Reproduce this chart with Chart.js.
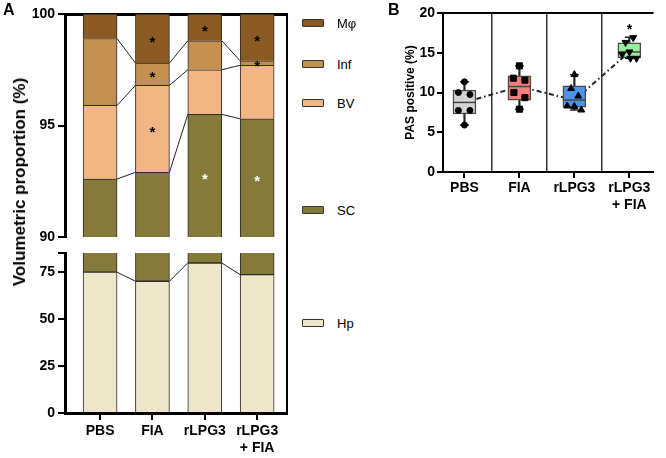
<!DOCTYPE html>
<html>
<head>
<meta charset="utf-8">
<script src="https://cdn.jsdelivr.net/npm/chart.js@4"></script>
<style>
  html, body { margin: 0; padding: 0; background: #fff; }
  body { width: 666px; height: 458px; position: relative; overflow: hidden; font-family: "Liberation Sans", Arial, sans-serif; }
  canvas { position: absolute; top: 0; }
  .panel { position: absolute; font-weight: bold; font-size: 16px; color: #000; }
  .ytitle { position: absolute; white-space: nowrap; font-weight: bold; color: #000; transform: translate(-50%, -50%) rotate(-90deg); }
  .lg-box { position: absolute; box-sizing: border-box; border: 1.5px solid #333; border-radius: 1px; }
  .lg-txt { position: absolute; font-size: 13px; color: #000; transform: translateY(-50%); white-space: nowrap; }
</style>
</head>
<body>
<canvas id="chartA" width="300" height="458" style="left:0px"></canvas>
<canvas id="chartB" width="271" height="210" style="left:395px"></canvas>
<div class="panel" style="left:3px;top:1px">A</div>
<div class="panel" style="left:388px;top:1px">B</div>
<div class="ytitle" style="left:20px;top:182px;font-size:17px">Volumetric proportion (%)</div>
<div id="legendA"></div>
<script>
// ---------------- DATA ----------------
// Panel A: volumetric proportion (%) of each compartment per group
const groupLabels = ['PBS', 'FIA', 'rLPG3', ['rLPG3', '+ FIA']];
const seriesNames = ['Hp', 'SC', 'BV', 'Inf', 'Mφ'];
const hpValues   = [74.8, 70.0, 79.7, 73.5];
const scValues   = [17.8, 22.9, 15.8, 21.8];
const bvValues   = [3.3, 3.9, 2.0, 2.4];
const infValues  = [3.0, 1.0, 1.3, 0.2];
const mphiValues = [1.1, 2.2, 1.2, 2.1];
const topAxisTicks = [90, 95, 100];
const bottomAxisTicks = [0, 25, 50, 75];
const starGroupsA = [1, 1, 1, 2, 2, 3, 3, 3];
const starSeriesA = ['Mφ', 'Inf', 'BV', 'Mφ', 'SC', 'Mφ', 'Inf', 'SC'];

// Panel B: PAS positive (%) box plots
const pasLabels = ['PBS', 'FIA', 'rLPG3', ['rLPG3', '+ FIA']];
const pasMin    = [5.9, 7.9, 7.8, 14.3];
const pasQ1     = [7.3, 9.05, 8.15, 14.35];
const pasMedian = [8.75, 10.75, 9.05, 15.1];
const pasQ3     = [10.3, 12.1, 10.85, 16.25];
const pasMax    = [11.35, 13.35, 12.25, 16.95];
const pasPBS      = [11.35, 10.0, 9.75, 7.75, 7.75, 5.9];
const pasFIA      = [13.35, 11.8, 11.55, 10.0, 9.35, 7.9];
const pasRLPG3    = [12.25, 10.5, 9.55, 8.3, 8.25, 7.8];
const pasRLPG3FIA = [16.9, 16.3, 15.1, 14.8, 14.3, 14.3];
const pasTicks = [0, 5, 10, 15, 20];
const pasStarGroups = [3];
const pasStarValues = [18.3];

// ---------------- LAYOUT / STYLE ----------------
const seriesColors = ['#ede6cb', '#857a3a', '#f2b684', '#c4904f', '#8b5a22'];
const BAR_W = 34;
const TICK_FONT = { weight: 'bold', size: 14 };
const TOP_SECTION = { id: 'yTop', min: 90, max: 100 };
const GAP_SECTION = { id: 'yGap', min: 85, max: 90 };
const BOT_SECTION = { id: 'yBot', min: 0, max: 85 };
const legendY = { 'Mφ': 23, 'Inf': 64, 'BV': 103, 'SC': 210, 'Hp': 323 };
const boxColors = ['#d4d4d4', '#f77e7e', '#4c93ee', '#95f09a'];
const markerStyles = ['circle', 'rect', 'triangle', 'triangle'];
const markerRotations = [0, 0, 0, 180];
const markerRadii = [3, 4.3, 4, 4];
const jitters = [
  [0, -0.11, 0.1, -0.11, 0.1, 0],
  [0, -0.11, 0.1, -0.1, 0.1, 0],
  [0, -0.06, 0.07, -0.13, 0, 0.125],
  [0.07, -0.07, 0, -0.13, 0.02, 0.13]
];

Chart.defaults.font.family = '"Liberation Sans", Arial, sans-serif';
Chart.defaults.color = '#000';

// ---------------- PANEL A ----------------
const seriesValues = [hpValues, scValues, bvValues, infValues, mphiValues];
const cumTop = seriesValues.map((_, s) => groupLabels.map((__, i) => {
  let t = 0;
  for (let k = 0; k <= s; k++) t += seriesValues[k][i];
  return Math.round(t * 1000) / 1000;
}));
const cumBottom = (s, i) => (s === 0 ? 0 : cumTop[s - 1][i]);

const datasetsA = [];
seriesValues.forEach((vals, s) => {
  [TOP_SECTION, BOT_SECTION].forEach(sec => {
    const data = [];
    vals.forEach((v, i) => {
      const lo = cumBottom(s, i), hi = cumTop[s][i];
      const a = Math.max(lo, sec.min), b = Math.min(hi, sec.max);
      if (b > a) data.push({ x: i, y: [a, b], cutHi: b < hi - 1e-6 });
    });
    datasetsA.push({
      label: seriesNames[s],
      data,
      xAxisID: 'x',
      yAxisID: sec.id,
      backgroundColor: seriesColors[s],
      borderColor: '#2b2b2b',
      borderWidth: 1,
      borderSkipped: c => (c.raw && c.raw.cutHi ? 'top' : 'bottom'),
      barThickness: BAR_W,
      grouped: false
    });
  });
});

const connectorPlugin = {
  id: 'connectors',
  afterDatasetsDraw(chart) {
    const ctx = chart.ctx;
    const xs = chart.scales.x;
    const half = BAR_W / 2;
    ctx.save();
    ctx.strokeStyle = '#222';
    ctx.lineWidth = 1;
    for (let s = 0; s < seriesValues.length - 1; s++) {
      for (let i = 0; i < groupLabels.length - 1; i++) {
        const a = cumTop[s][i], b = cumTop[s][i + 1];
        [TOP_SECTION, BOT_SECTION].forEach(sec => {
          const sc = chart.scales[sec.id];
          if (a >= sec.min && a <= sec.max && b >= sec.min && b <= sec.max) {
            ctx.beginPath();
            ctx.moveTo(xs.getPixelForValue(i) + half, sc.getPixelForValue(a));
            ctx.lineTo(xs.getPixelForValue(i + 1) - half, sc.getPixelForValue(b));
            ctx.stroke();
          }
        });
      }
    }
    ctx.font = 'bold 15px "Liberation Sans", Arial, sans-serif';
    ctx.textAlign = 'center';
    ctx.textBaseline = 'middle';
    const yt = chart.scales[TOP_SECTION.id];
    starGroupsA.forEach((g, j) => {
      const s = seriesNames.indexOf(starSeriesA[j]);
      const lo = Math.max(cumBottom(s, g), TOP_SECTION.min);
      const hi = Math.min(cumTop[s][g], TOP_SECTION.max);
      ctx.fillStyle = starSeriesA[j] === 'SC' ? '#fff' : '#000';
      ctx.fillText('*', xs.getPixelForValue(g), yt.getPixelForValue((lo + hi) / 2) + 4);
    });
    ctx.restore();
  }
};

const xRangeA = { min: -0.67, max: 3.57 };
const leftAxisCommon = {
  type: 'linear',
  position: 'left',
  stack: 'a',
  offset: false,
  beginAtZero: false,
  ticks: { padding: 3, font: TICK_FONT, color: '#000' },
  grid: { drawOnChartArea: false, tickLength: 7, lineWidth: 2, color: '#000' },
  border: { width: 3, color: '#000' },
  afterFit: s => { s.width = 65; }
};

new Chart(document.getElementById('chartA'), {
  type: 'bar',
  data: { datasets: datasetsA },
  options: {
    responsive: false,
    animation: false,
    devicePixelRatio: 1,
    layout: { padding: { left: 0, top: 14, right: 13, bottom: 0 } },
    plugins: { legend: { display: false }, tooltip: { enabled: false } },
    scales: {
      x: {
        type: 'linear', position: 'bottom', min: xRangeA.min, max: xRangeA.max, offset: false,
        afterBuildTicks: s => { s.ticks = groupLabels.map((_, i) => ({ value: i })); },
        ticks: { autoSkip: false, maxRotation: 0, padding: 3, font: TICK_FONT, color: '#000',
          callback: v => groupLabels[v] },
        grid: { offset: false, drawOnChartArea: false, tickLength: 7, lineWidth: 2, color: '#000' },
        border: { width: 3, color: '#000' },
        afterFit: s => { s.height = 45; }
      },
      xT: {
        type: 'linear', position: 'top', min: xRangeA.min, max: xRangeA.max, offset: false,
        ticks: { display: false }, grid: { display: false, offset: false },
        border: { width: 3, color: '#000' },
        afterFit: s => { s.height = 0; }
      },
      yTop: Object.assign({}, leftAxisCommon, {
        weight: 3, stackWeight: 223, min: TOP_SECTION.min, max: TOP_SECTION.max,
        afterBuildTicks: s => { s.ticks = topAxisTicks.map(v => ({ value: v })); },
        ticks: Object.assign({}, leftAxisCommon.ticks, { callback: v => String(v) })
      }),
      yGap: Object.assign({}, leftAxisCommon, {
        weight: 2, stackWeight: 16, min: GAP_SECTION.min, max: GAP_SECTION.max,
        ticks: { display: false }, grid: { display: false }, border: { display: false }
      }),
      yBot: Object.assign({}, leftAxisCommon, {
        weight: 1, stackWeight: 160, min: BOT_SECTION.min, max: BOT_SECTION.max,
        afterBuildTicks: s => { s.ticks = bottomAxisTicks.concat([BOT_SECTION.max]).map(v => ({ value: v })); },
        ticks: Object.assign({}, leftAxisCommon.ticks, { callback: v => (bottomAxisTicks.includes(v) ? String(v) : '') })
      }),
      yR: {
        type: 'linear', position: 'right', min: 0, max: 1,
        ticks: { display: false }, grid: { display: false },
        border: { width: 2, color: '#000' },
        afterFit: s => { s.width = 0; }
      }
    }
  },
  plugins: [connectorPlugin]
});

// legend for panel A
const legendEl = document.getElementById('legendA');
seriesNames.slice().reverse().forEach(name => {
  const idx = seriesNames.indexOf(name);
  const y = legendY[name];
  const box = document.createElement('div');
  box.className = 'lg-box';
  box.style.cssText = `left:302px;top:${y - 4}px;width:22px;height:8px;background:${seriesColors[idx]}`;
  legendEl.appendChild(box);
  const t = document.createElement('div');
  t.className = 'lg-txt';
  t.style.cssText = `left:337px;top:${y}px`;
  t.textContent = name;
  legendEl.appendChild(t);
});

// ---------------- PANEL B ----------------
const pasPoints = [pasPBS, pasFIA, pasRLPG3, pasRLPG3FIA];
const xRangeB = { min: -0.39, max: 3.43 };
const datasetsB = [
  {
    type: 'line', data: pasMedian.map((v, i) => ({ x: i, y: v })),
    borderColor: '#222', borderWidth: 2, borderDash: [5, 3, 1.5, 3], pointRadius: 0, order: 10,
    xAxisID: 'x', yAxisID: 'y'
  },
  {
    type: 'bar', data: pasMin.map((v, i) => ({ x: i, y: [v, pasMax[i]] })),
    backgroundColor: '#222', borderWidth: 0, barThickness: 1.5, grouped: false, order: 8,
    xAxisID: 'x', yAxisID: 'y'
  },
  {
    type: 'bar', data: pasQ1.map((v, i) => ({ x: i, y: [v, pasQ3[i]] })),
    backgroundColor: boxColors, borderColor: '#4a4a4a', borderWidth: 1.5, borderSkipped: false,
    barThickness: 23, grouped: false, order: 6, xAxisID: 'x', yAxisID: 'y'
  },
  {
    type: 'scatter', data: pasMedian.map((v, i) => ({ x: i, y: v })),
    pointStyle: 'line', pointRadius: 11.5, pointBorderWidth: 1.5, pointBorderColor: '#444', order: 4,
    xAxisID: 'x', yAxisID: 'y'
  },
  {
    type: 'scatter', data: pasMin.map((v, i) => ({ x: i, y: v })).concat(pasMax.map((v, i) => ({ x: i, y: v }))),
    pointStyle: 'line', pointRadius: 4.5, pointBorderWidth: 1.5, pointBorderColor: '#222', order: 3,
    xAxisID: 'x', yAxisID: 'y'
  }
];
pasPoints.forEach((pts, g) => {
  datasetsB.push({
    type: 'scatter',
    data: pts.map((v, j) => ({ x: g + jitters[g][j], y: v })),
    pointStyle: markerStyles[g], rotation: markerRotations[g], pointRadius: markerRadii[g],
    pointBackgroundColor: '#000', pointBorderColor: '#000', pointBorderWidth: 1, order: 1,
    xAxisID: 'x', yAxisID: 'y'
  });
});

const starPluginB = {
  id: 'starsB',
  afterDatasetsDraw(chart) {
    const ctx = chart.ctx;
    ctx.save();
    ctx.font = 'bold 14px "Liberation Sans", Arial, sans-serif';
    ctx.textAlign = 'center';
    ctx.textBaseline = 'middle';
    ctx.fillStyle = '#000';
    pasStarGroups.forEach((g, j) => {
      ctx.fillText('*', chart.scales.x.getPixelForValue(g), chart.scales.y.getPixelForValue(pasStarValues[j]) + 4);
    });
    ctx.restore();
  }
};

new Chart(document.getElementById('chartB'), {
  type: 'bar',
  data: { datasets: datasetsB },
  options: {
    responsive: false,
    animation: false,
    devicePixelRatio: 1,
    layout: { padding: { left: 0, top: 13, right: 0, bottom: 0 } },
    plugins: { legend: { display: false }, tooltip: { enabled: false } },
    scales: {
      x: {
        type: 'linear', position: 'bottom', min: xRangeB.min, max: xRangeB.max, offset: false,
        afterBuildTicks: s => { s.ticks = pasLabels.map((_, i) => ({ value: i })); },
        ticks: { autoSkip: false, maxRotation: 0, padding: 2, font: TICK_FONT, color: '#000',
          callback: v => pasLabels[v] },
        grid: { offset: false, drawOnChartArea: false, tickLength: 6, lineWidth: 2, color: '#000' },
        border: { width: 2, color: '#000' },
        afterFit: s => { s.height = 38; }
      },
      xS: {
        type: 'linear', position: 'top', min: xRangeB.min, max: xRangeB.max, offset: false,
        afterBuildTicks: s => { s.ticks = pasLabels.slice(1).map((_, i) => ({ value: i + 0.5 })); },
        ticks: { display: false },
        grid: { offset: false, drawTicks: false, lineWidth: 1.5, color: '#333' },
        border: { width: 2, color: '#000' },
        afterFit: s => { s.height = 0; }
      },
      y: {
        type: 'linear', position: 'left', min: 0, max: 20, beginAtZero: false,
        afterBuildTicks: s => { s.ticks = pasTicks.map(v => ({ value: v })); },
        ticks: { padding: 2, font: TICK_FONT, color: '#000' },
        grid: { drawOnChartArea: false, tickLength: 6, lineWidth: 2, color: '#000' },
        border: { width: 2, color: '#000' },
        title: { display: true, text: 'PAS positive (%)', font: { weight: 'bold', size: 12 }, color: '#000', padding: { top: 8, bottom: 0 } },
        afterFit: s => { s.width = 48; }
      }
    }
  },
  plugins: [starPluginB]
});
</script>
</body>
</html>
